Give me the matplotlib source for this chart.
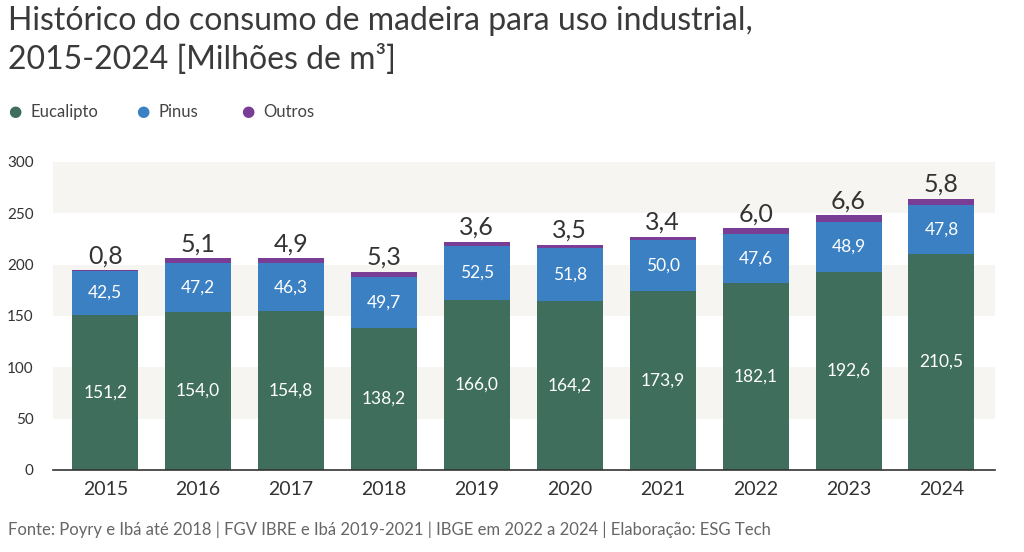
import matplotlib.pyplot as plt

anos = ["2015", "2016", "2017", "2018", "2019", "2020", "2021", "2022", "2023", "2024"]
eucalipto = [151.2, 154.0, 154.8, 138.2, 166.0, 164.2, 173.9, 182.1, 192.6, 210.5]
pinus = [42.5, 47.2, 46.3, 49.7, 52.5, 51.8, 50.0, 47.6, 48.9, 47.8]
outros = [0.8, 5.1, 4.9, 5.3, 3.6, 3.5, 3.4, 6.0, 6.6, 5.8]

cor_euc = "#3f6f5c"
cor_pin = "#3b80c3"
cor_out = "#7a3d96"
cor_faixa = "#f7f5f1"

plt.rcParams['font.family'] = ['Lato', 'DejaVu Sans']


def fmt(v):
    return f"{v:.1f}".replace(".", ",")


def main():
    fig = plt.figure(figsize=(10.24, 5.52), dpi=100)
    ax = fig.add_axes([0.052, 0.1486, 0.92, 0.558])

    x = list(range(len(anos)))
    w = 0.71

    # faixas alternadas no fundo
    for lo in (50, 150, 250):
        ax.axhspan(lo, lo + 50, color=cor_faixa, zorder=0, lw=0)

    ax.bar(x, eucalipto, w, color=cor_euc, zorder=2)
    ax.bar(x, pinus, w, bottom=eucalipto, color=cor_pin, zorder=2)
    base3 = [a + b for a, b in zip(eucalipto, pinus)]
    ax.bar(x, outros, w, bottom=base3, color=cor_out, zorder=2)

    for i in x:
        ax.text(i, eucalipto[i] / 2, fmt(eucalipto[i]), ha="center", va="center",
                color="white", fontsize=12.5, zorder=3)
        ax.text(i, eucalipto[i] + pinus[i] / 2, fmt(pinus[i]), ha="center", va="center",
                color="white", fontsize=12.5, zorder=3)
        topo = base3[i] + outros[i]
        ax.text(i, topo + 14, fmt(outros[i]), ha="center", va="center",
                color="#333333", fontsize=18, zorder=3)

    ax.set_xlim(-0.56, 9.58)
    ax.set_ylim(0, 300)
    ax.set_yticks([0, 50, 100, 150, 200, 250, 300])
    ax.set_xticks(x)
    ax.set_xticklabels(anos)
    ax.tick_params(axis="y", length=0, labelsize=11, labelcolor="#333333", pad=14)
    ax.tick_params(axis="x", length=0, labelsize=14, labelcolor="#333333", pad=8)
    for s in ["top", "right", "left"]:
        ax.spines[s].set_visible(False)
    ax.spines["bottom"].set_color("#333333")
    ax.spines["bottom"].set_linewidth(1.2)

    fig.text(0.008, 0.99, "Histórico do consumo de madeira para uso industrial,\n2015-2024 [Milhões de m³]",
             ha="left", va="top", fontsize=23, color="#3a3a3a", linespacing=1.33)

    # legenda
    leg = [("Eucalipto", cor_euc, 15), ("Pinus", cor_pin, 143), ("Outros", cor_out, 248)]
    for nome, cor, px in leg:
        fig.text(px / 1024, 1 - 112 / 552, "●", color=cor, fontsize=11, ha="center", va="center",
                 family="DejaVu Sans")
        fig.text((px + 15) / 1024, 1 - 112 / 552, nome, color="#444444", fontsize=12,
                 ha="left", va="center")

    fig.text(0.008, 1 - 530 / 552,
             "Fonte: Poyry e Ibá até 2018 | FGV IBRE e Ibá 2019-2021 | IBGE em 2022 a 2024 | Elaboração: ESG Tech",
             ha="left", va="center", fontsize=12, color="#666666")

    fig.savefig("out.png", dpi=100)


main()
